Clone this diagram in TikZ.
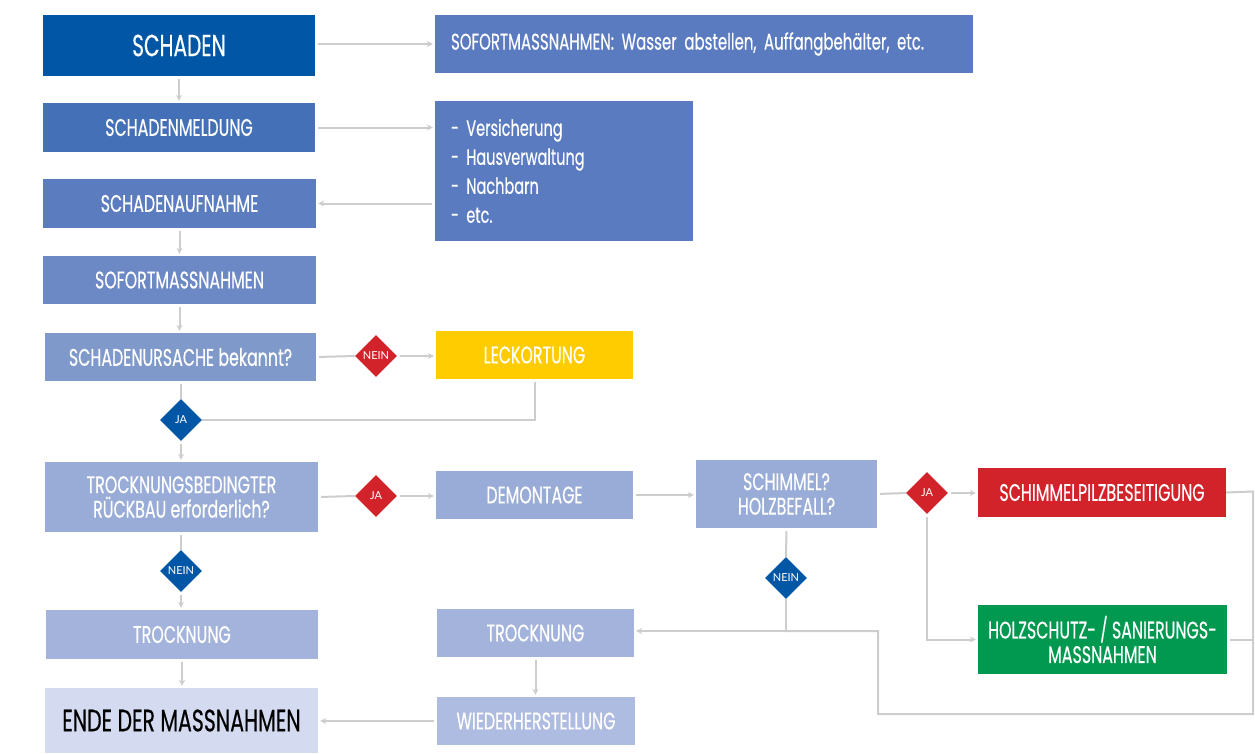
\documentclass[tikz,border=0pt]{standalone}
\usepackage{fontspec}
\usetikzlibrary{shapes.geometric,arrows.meta,calc}
\newfontfamily\cf[FakeStretch=0.66,FakeBold=0.4]{Poppins}
\newfontfamily\df{Lato}
\definecolor{cSch}{HTML}{0157A6}
\definecolor{cTop}{HTML}{5A7BBF}
\definecolor{cMeld}{HTML}{4370B7}
\definecolor{cAuf}{HTML}{5B7CBE}
\definecolor{cSofm}{HTML}{6C89C6}
\definecolor{cUrs}{HTML}{7F99CB}
\definecolor{cMid}{HTML}{99ACD7}
\definecolor{cTro}{HTML}{A3B3DB}
\definecolor{cWied}{HTML}{AFBCE1}
\definecolor{cEnde}{HTML}{D4DAEF}
\definecolor{cLeck}{HTML}{FFCC00}
\definecolor{cRed}{HTML}{D2232A}
\definecolor{cGreen}{HTML}{00994F}
\definecolor{cLine}{HTML}{CDCDCD}
\begin{document}
\begin{tikzpicture}[x=1pt,y=-1pt,
  box/.style={rectangle, inner sep=0pt, text=white, align=center,
    font=\cf\fontsize{24}{24.5}\selectfont},
  dia/.style={diamond, aspect=1, minimum size=42pt, inner sep=0pt, text=white,
    font=\df\fontsize{11}{12}\selectfont},
  conn/.style={draw=cLine, line width=2pt, shorten <=3pt},
  arr/.style={conn, -{Stealth[length=6pt,width=6pt]}, shorten >=2pt}]
\useasboundingbox (0,0) rectangle (1255,753);
% nodes
\node[box, fill=cSch, minimum width=272pt, minimum height=61pt, font=\cf\fontsize{30.5}{32}\selectfont] (sch) at (179,45.5) {SCHADEN};
\node[box, fill=cTop, minimum width=538pt, minimum height=58pt, text width=506pt, align=left, inner xsep=16pt, font=\cf\fontsize{22.7}{24}\selectfont] (sof) at (704,44) {SOFORTMASSNAHMEN: Wasser abstellen, Auffangbehälter, etc.};
\node[box, fill=cMeld, minimum width=272pt, minimum height=49pt] (meld) at (179,127.5) {SCHADENMELDUNG};
\node[box, fill=cTop, minimum width=258pt, minimum height=140pt, text width=226pt, align=left, inner xsep=16pt, font=\cf\fontsize{22}{29}\selectfont] (list) at (564,171) {- Versicherung\\- Hausverwaltung\\- Nachbarn\\- etc.};
\node[box, fill=cAuf, minimum width=273pt, minimum height=49pt] (auf) at (179.5,203.5) {SCHADENAUFNAHME};
\node[box, fill=cSofm, minimum width=273pt, minimum height=48pt] (sofm) at (179.5,280) {SOFORTMASSNAHMEN};
\node[box, fill=cUrs, minimum width=271pt, minimum height=48pt] (urs) at (180.5,357) {SCHADENURSACHE bekannt?};
\node[dia, fill=cRed] (d1) at (376,356) {NEIN};
\node[box, fill=cLeck, minimum width=197pt, minimum height=48pt] (leck) at (534.5,355) {LECKORTUNG};
\node[dia, fill=cSch] (d2) at (181,420) {JA};
\node[box, fill=cMid, minimum width=273pt, minimum height=70pt] (rueck) at (181.5,497) {TROCKNUNGSBEDINGTER\\RÜCKBAU erforderlich?};
\node[dia, fill=cRed] (d3) at (376,496) {JA};
\node[box, fill=cMid, minimum width=197pt, minimum height=48pt] (dem) at (534.5,495) {DEMONTAGE};
\node[box, fill=cMid, minimum width=181pt, minimum height=68pt] (schim) at (786.5,494) {SCHIMMEL?\\HOLZBEFALL?};
\node[dia, fill=cRed] (d5) at (927,493) {JA};
\node[box, fill=cRed, minimum width=248pt, minimum height=49pt] (pilz) at (1102,492.5) {SCHIMMELPILZBESEITIGUNG};
\node[box, fill=cGreen, minimum width=249pt, minimum height=69pt] (holz) at (1102.5,639.5) {HOLZSCHUTZ- / SANIERUNGS-\\MASSNAHMEN};
\node[dia, fill=cSch] (d6) at (786,578) {NEIN};
\node[dia, fill=cSch] (d4) at (181,571) {NEIN};
\node[box, fill=cTro, minimum width=272pt, minimum height=49pt] (tro1) at (182,634.5) {TROCKNUNG};
\node[box, fill=cEnde, minimum width=273pt, minimum height=65pt, text=black, font=\cf\fontsize{31}{32}\selectfont] (ende) at (181.5,720.5) {ENDE DER MASSNAHMEN};
\node[box, fill=cTro, minimum width=197pt, minimum height=48pt] (tro2) at (535.5,633) {TROCKNUNG};
\node[box, fill=cWied, minimum width=198pt, minimum height=48pt] (wied) at (536,721) {WIEDERHERSTELLUNG};
% helper coordinates
\coordinate (jn) at (d6.south |- 0,631);
\coordinate (rt) at (1253,491.5);
\coordinate (rb) at (1253,714);
\coordinate (lb) at (878,714);
\coordinate (lt) at (878,631);
% connectors
\draw[arr] (sch.east |- 0,44) -- (sof.west |- 0,44);
\draw[arr] (sch.south) -- (meld.north);
\draw[arr] (meld.east) -- (meld.east -| list.west);
\draw[arr] (list.west |- auf.east) -- (auf.east);
\draw[arr] (auf.south) -- (sofm.north);
\draw[arr] (sofm.south) -- (sofm.south |- urs.north);
\draw[conn] (urs.east) -- (d1.west);
\draw[arr] (d1.east) -- (d1.east -| leck.west);
\draw[conn] (urs.south -| d2.north) -- (d2.north);
\draw[arr] (d2.south) -- (d2.south |- rueck.north);
\draw[conn, shorten <=3pt] (leck.south) -- (leck.south |- d2.east) -- (d2.east);
\draw[conn] (rueck.east) -- (d3.west);
\draw[arr] (d3.east) -- (d3.east -| dem.west);
\draw[arr] (dem.east) -- (dem.east -| schim.west);
\draw[conn] (schim.east) -- (d5.west);
\draw[arr] (d5.east) -- (d5.east -| pilz.west);
\draw[arr] (d5.south) |- (holz.west);
\draw[conn] (schim.south) -- (d6.north);
\draw[conn, shorten <=0pt] (d6.south) -- (jn);
\draw[arr, shorten <=0pt] (jn) -- (jn -| tro2.east);
\draw[conn, shorten <=0pt] (pilz.east) -- (rt) -- (rb) -- (lb) -- (lt) -- (jn);
\draw[conn] (holz.east) -- (holz.east -| rt);
\draw[conn] (rueck.south -| d4.north) -- (d4.north);
\draw[arr] (d4.south) -- (d4.south |- tro1.north);
\draw[arr] (tro1.south) -- (tro1.south |- ende.north);
\draw[arr] (tro2.south) -- (tro2.south |- wied.north);
\draw[arr] (wied.west) -- (wied.west -| ende.east);
\end{tikzpicture}
\end{document}
